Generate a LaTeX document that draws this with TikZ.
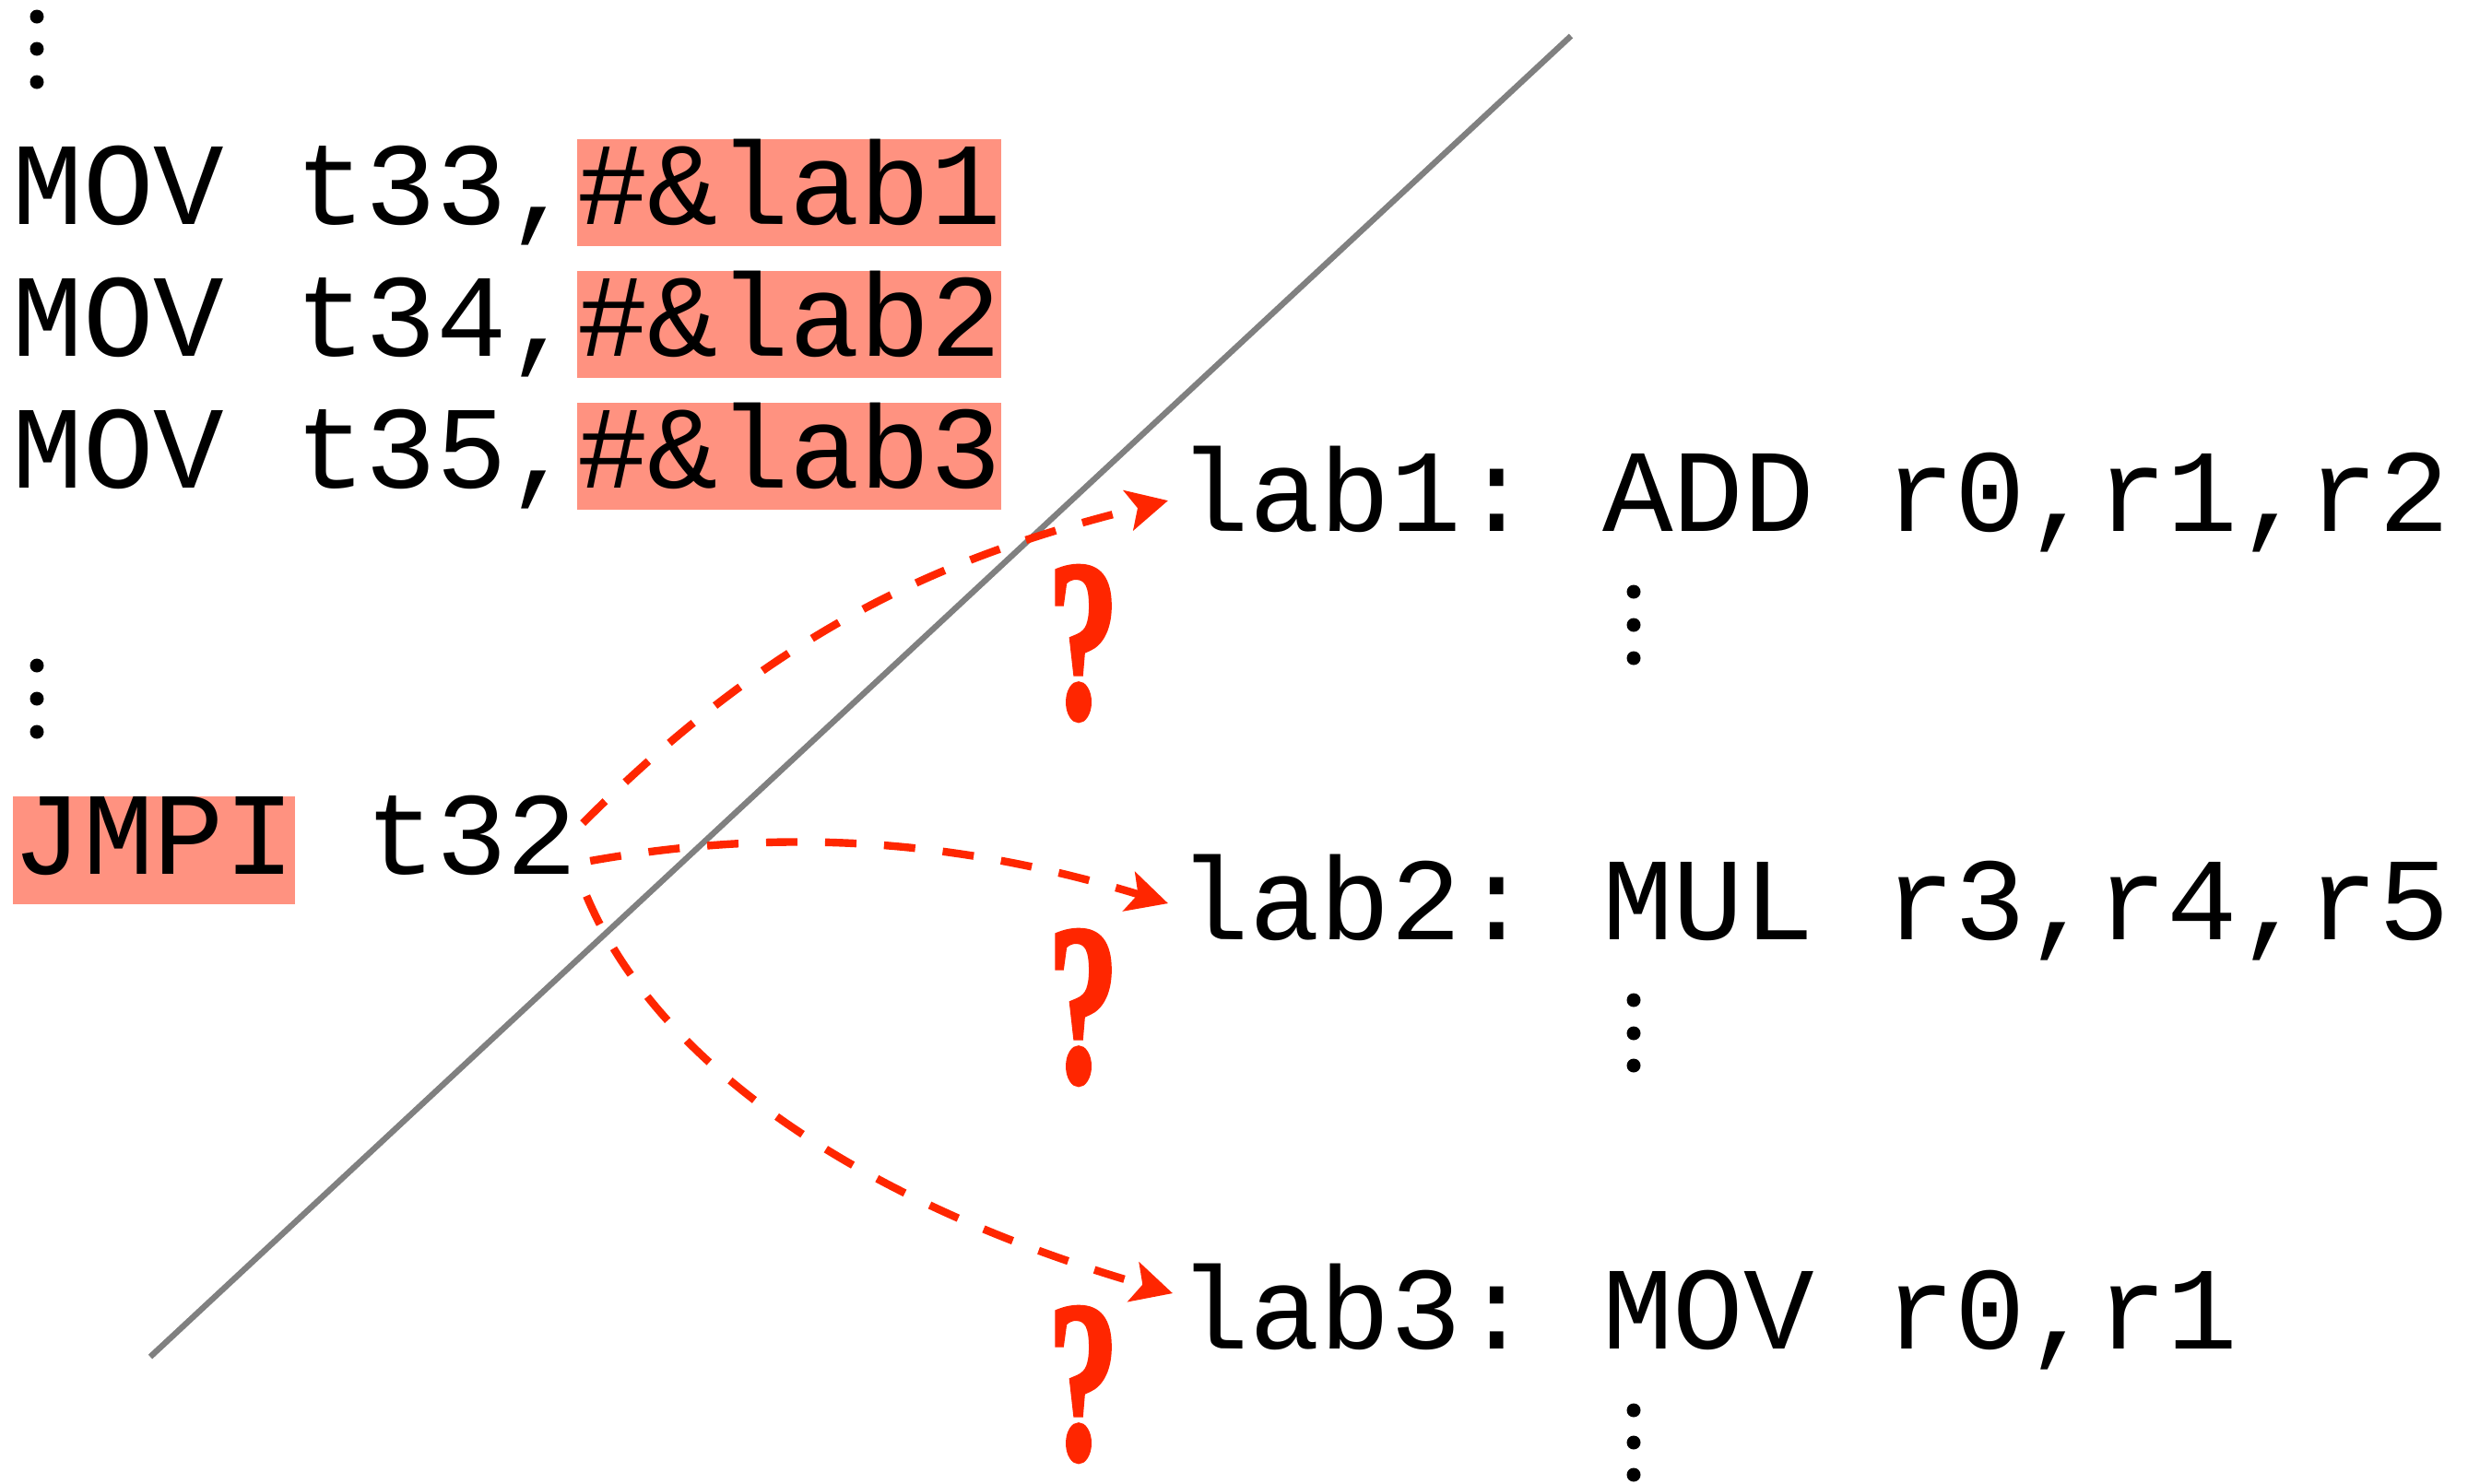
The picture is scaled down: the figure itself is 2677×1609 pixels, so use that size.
\documentclass[tikz,border=0pt]{standalone}
\usepackage{fontspec}
\usepackage{graphicx}
\usetikzlibrary{arrows.meta}
\newfontfamily\codefont{Liberation Mono}
\newfontfamily\qfont[FakeBold=2]{Liberation Serif}
\definecolor{hlfill}{RGB}{255,146,128}
\definecolor{arrred}{RGB}{255,38,0}
\definecolor{divgray}{RGB}{128,128,128}
\newcommand{\hlbox}[3]{{\setlength{\fboxsep}{0pt}\colorbox{hlfill}{\rule[-#2]{0pt}{#1}#3}}}
\begin{document}
\begin{tikzpicture}[x=0.25pt, y=-0.25pt,
  code/.style={font=\codefont\fontsize{31.9}{38}\selectfont\frenchspacing, anchor=base west, inner sep=0pt, text=black},
  qmark/.style={font=\qfont\bfseries\fontsize{62}{62}\selectfont, text=arrred, inner sep=0pt},
  jump/.style={draw=arrred, line width=2.1pt, dash pattern=on 8.5pt off 7.5pt, -{Stealth[length=11pt,width=11pt,inset=2.5pt]}},
  divider/.style={draw=divgray, line width=1.6pt}]
\path[use as bounding box] (0,0) rectangle (2677,1609);

% divider line
\draw[divider] (163,1472) -- (1704,39);

% left code
\node[code] (mov1) at (13,243) {MOV t33,\hlbox{24pt}{6pt}{\#\&lab1}};
\node[code] (mov2) at (13,386) {MOV t34,\hlbox{24pt}{6pt}{\#\&lab2}};
\node[code] (mov3) at (13,529) {MOV t35,\hlbox{24pt}{6pt}{\#\&lab3}};
\node[code] (jmpi) at (13,948) {\hlbox{22pt}{8.25pt}{JMPI} t32};

% right code
\node[code] (lab1) at (1278,576) {lab1: ADD r0,r1,r2};
\node[code] (lab2) at (1278,1019) {lab2: MUL r3,r4,r5};
\node[code] (lab3) at (1278,1463) {lab3: MOV r0,r1};

% vertical dots
\foreach \x/\y in {40/18, 40/53, 40/89, 40/722, 40/758, 40/794,
  1772/642, 1772/678, 1772/714, 1772/1085, 1772/1121, 1772/1156,
  1772/1530, 1772/1565, 1772/1600}
  \fill[black] (\x,\y) circle[radius=7.5];

% question marks
\node[qmark] (q1) at (1175,698) {\scalebox{0.62}[1]{?}};
\node[qmark] (q2) at (1175,1093) {\scalebox{0.62}[1]{?}};
\node[qmark] (q3) at (1175,1502) {\scalebox{0.62}[1]{?}};

% jumps
\draw[jump] ([shift={(5,-55)}]jmpi.base east) .. controls +(212,-212) and +(-243,60) .. ([shift={(-11,2)}]lab1.west);
\draw[jump] ([shift={(13,-14)}]jmpi.base east) .. controls +(197,-35) and +(-239,-73) .. ([shift={(-11,-4)}]lab2.west);
\draw[jump] ([shift={(9,24)}]jmpi.base east) .. controls +(78,184) and +(-336,-97) .. ([shift={(-6,-25)}]lab3.west);
\end{tikzpicture}
\end{document}
